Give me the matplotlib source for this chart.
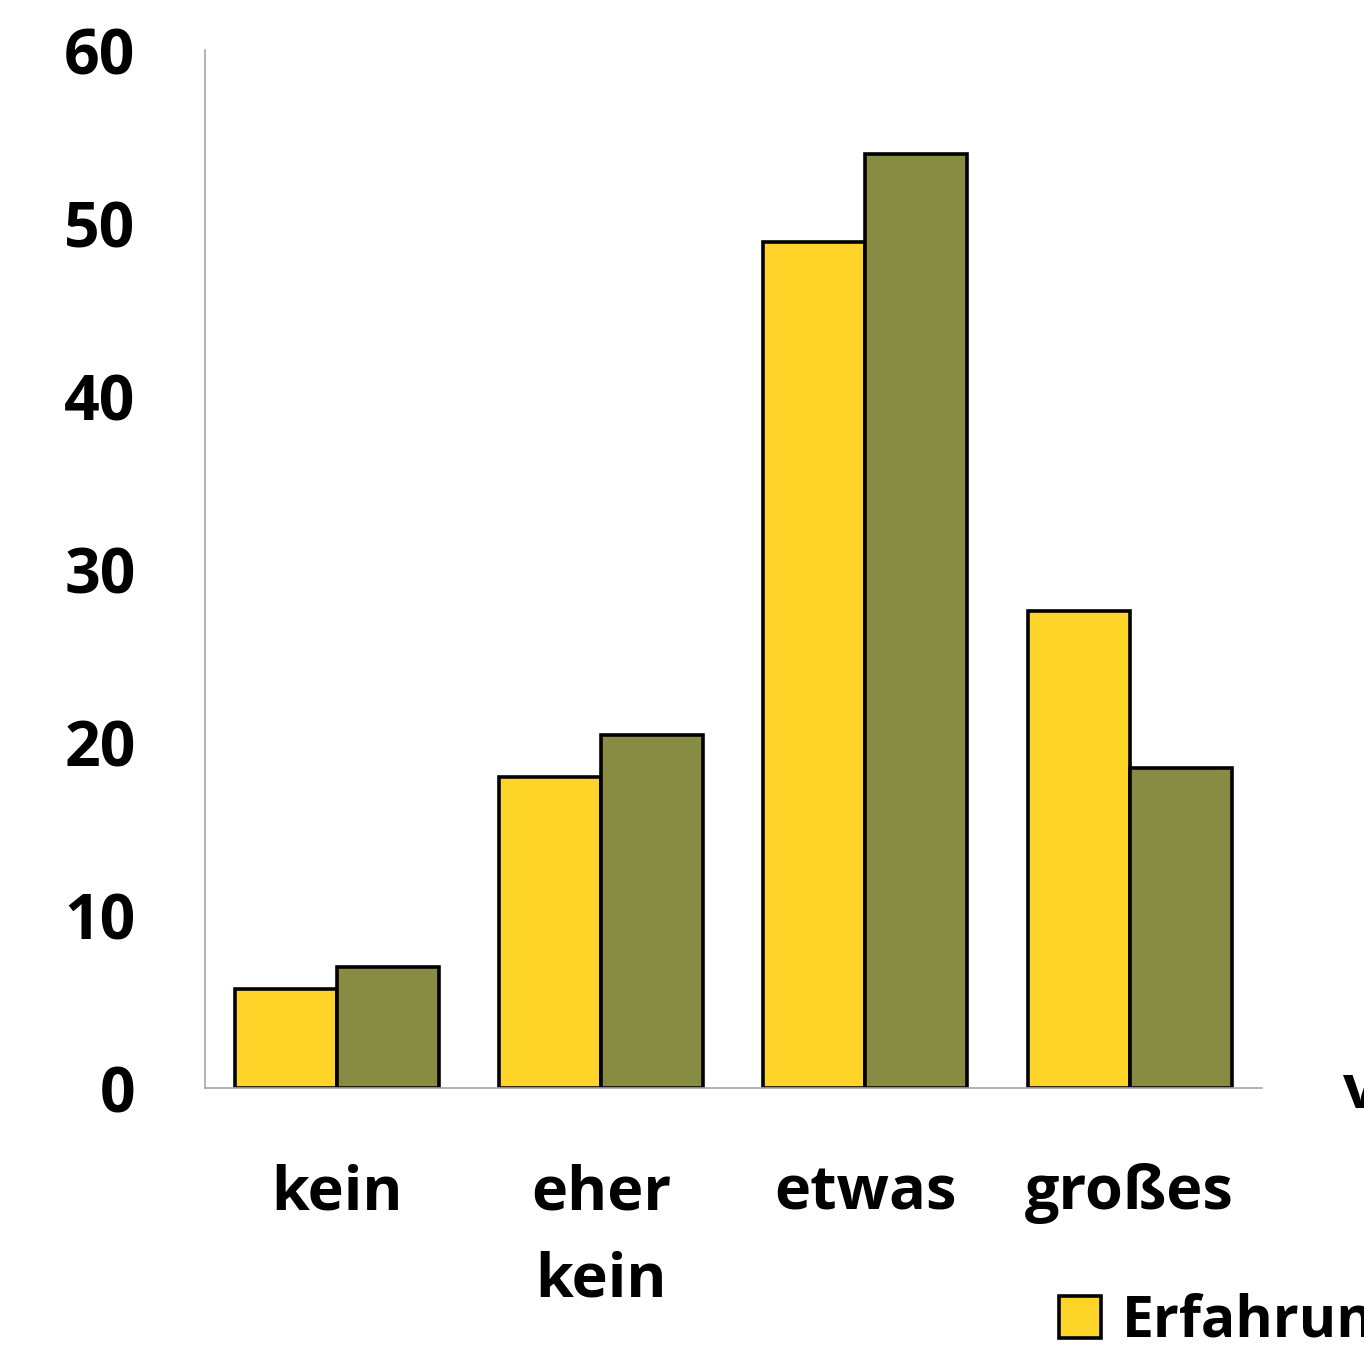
"""
Grouped bar chart: answer categories, two groups side by side.
"""

import matplotlib
matplotlib.use("Agg")
import matplotlib.pyplot as plt
import numpy as np

plt.rcParams["font.family"] = ["Open Sans", "DejaVu Sans"]
plt.rcParams["font.weight"] = "bold"

categories = ["kein", "eher\nkein", "etwas", "großes"]
series_names = ["Erfahrung", "keine Erfahrung"]
values_a = [5.7, 18.0, 48.9, 27.6]
values_b = [7.0, 20.4, 54.0, 18.5]
y_ticks = [0, 10, 20, 30, 40, 50, 60]

_YELLOW = "#FDD427"
_OLIVE = "#878C42"
_GREY = "#A6A6A6"

fig = plt.figure(figsize=(13.64, 13.56), dpi=100)
ax = fig.add_axes([0.1503, 0.1976, 0.925 - 0.1503, 0.963 - 0.1976])

x = np.arange(len(categories))
width = 0.386
bars_a = ax.bar(x - width / 2, values_a, width, color=_YELLOW,
                edgecolor="black", linewidth=2.6, label=series_names[0])
bars_b = ax.bar(x + width / 2, values_b, width, color=_OLIVE,
                edgecolor="black", linewidth=2.6, label=series_names[1])

ax.set_xlim(-0.5, 3.5)
ax.set_ylim(0, 60)
ax.set_yticks(y_ticks)
ax.set_yticklabels([str(t) for t in y_ticks], fontsize=45, fontweight="bold")
ax.set_xticks(x)
ax.set_xticklabels(categories, fontsize=44, fontweight="bold",
                   linespacing=1.58, va="top")
ax.tick_params(axis="both", length=0)
ax.tick_params(axis="y", pad=50)
ax.tick_params(axis="x", pad=54)

for side in ("top", "right"):
    ax.spines[side].set_visible(False)
for side in ("left", "bottom"):
    ax.spines[side].set_color(_GREY)
    ax.spines[side].set_linewidth(1.2)
ax.set_axisbelow(True)

# axis title runs off the right edge
fig.text(1343 / 1364, 1 - 1092 / 1356, "vorher", fontsize=44,
         fontweight="bold", ha="left", va="center")

fig.legend(handles=[bars_a, bars_b], labels=series_names,
           loc="center left", bbox_to_anchor=(1036 / 1364, 1 - 1322 / 1356),
           ncol=2, frameon=False, fontsize=41, handlelength=0.75,
           handleheight=0.75, handletextpad=0.35, borderaxespad=0,
           columnspacing=1.0)

fig.savefig("out.png", dpi=100)
